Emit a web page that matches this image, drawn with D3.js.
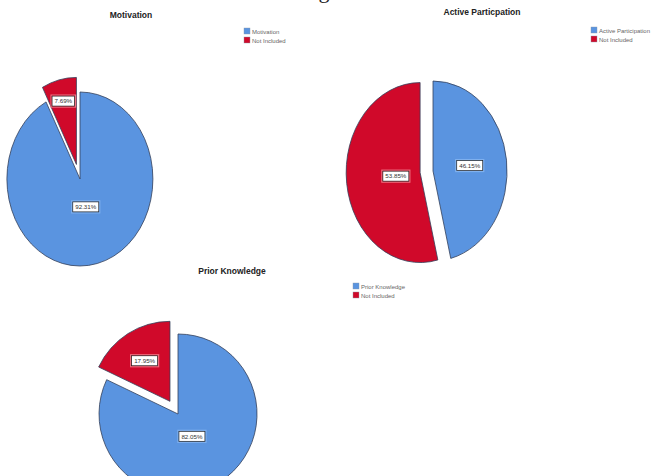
<!DOCTYPE html>
<html>
<head>
<meta charset="utf-8">
<script src="https://cdn.jsdelivr.net/npm/d3@7"></script>
<style>
  html, body { margin: 0; padding: 0; background: #fff; }
  svg { display: block; }
</style>
</head>
<body>
<svg id="chart" width="656" height="476"></svg>
<script>
// ---- data ----
const chartTitles = ["Motivation", "Active Particpation", "Prior Knowledge"];
const legendLabels = [
  ["Motivation", "Not Included"],
  ["Active Participation", "Not Included"],
  ["Prior Knowledge", "Not Included"]
];
const includedPct = [92.31, 46.15, 82.05];
const notIncludedPct = [7.69, 53.85, 17.95];
const sliceColors = ["#5a94e0", "#d0092a"];
const labelBorderColors = ["#7fb0ee", "#f07080"];

// ---- layout (positions only) ----
const layout = [
  { cx: 80,  cy: 179, rx: 73, ry: 87, explode: 15, title: [131, 18],  legend: [244, 28] },
  { cx: 433, cy: 171, rx: 74, ry: 90, explode: 13, title: [482, 15],  legend: [591, 27] },
  { cx: 178, cy: 414, rx: 79, ry: 80, explode: 15, title: [232, 274], legend: [353, 283] }
];

const svg = d3.select("#chart");

// caption fragment at the top edge (only its descender is visible, as in the source)
svg.append("text")
  .attr("x", 324).attr("y", -2)
  .attr("text-anchor", "middle")
  .attr("font-family", "Liberation Serif, serif")
  .attr("font-size", 22)
  .attr("fill", "#222")
  .text("g");

const pie = d3.pie().sort(null).value(d => d.v).startAngle(0).endAngle(2 * Math.PI);
const arc = d3.arc().innerRadius(0).outerRadius(1);

chartTitles.forEach((title, i) => {
  const L = layout[i];
  const data = [
    { v: includedPct[i], name: legendLabels[i][0], k: 0 },
    { v: notIncludedPct[i], name: legendLabels[i][1], k: 1 }
  ];
  const arcs = pie(data);
  const g = svg.append("g");

  // title
  g.append("text")
    .attr("x", L.title[0]).attr("y", L.title[1])
    .attr("text-anchor", "middle")
    .attr("font-family", "Liberation Sans, Arial, sans-serif")
    .attr("font-weight", "bold")
    .attr("font-size", 8.5)
    .attr("fill", "#222")
    .text(title);

  // legend
  const lg = g.append("g").attr("transform", `translate(${L.legend[0]},${L.legend[1]})`);
  data.forEach((d, j) => {
    lg.append("rect")
      .attr("x", 0).attr("y", j * 9)
      .attr("width", 6).attr("height", 6)
      .attr("fill", sliceColors[d.k])
      .attr("stroke", "#8899aa").attr("stroke-width", 0.4);
    lg.append("text")
      .attr("x", 8).attr("y", j * 9 + 5.5)
      .attr("font-family", "Liberation Sans, Arial, sans-serif")
      .attr("font-size", 6)
      .attr("fill", "#666")
      .text(d.name);
  });

  // slices
  arcs.forEach(a => {
    const mid = (a.startAngle + a.endAngle) / 2;
    const off = a.data.k === 1 ? L.explode : 0;
    const ox = L.cx + off * Math.sin(mid);
    const oy = L.cy - off * Math.cos(mid);
    g.append("path")
      .attr("d", arc(a))
      .attr("transform", `translate(${ox},${oy}) scale(${L.rx},${L.ry})`)
      .attr("fill", sliceColors[a.data.k])
      .attr("stroke", "#33405a")
      .attr("stroke-width", 0.8)
      .attr("vector-effect", "non-scaling-stroke");

    // label
    const v = a.data.v;
    const frac = v < 10 ? 0.75 : v < 20 ? 0.6 : v < 50 ? 0.5 : 0.33;
    const lx = ox + Math.sin(mid) * L.rx * frac;
    const ly = oy - Math.cos(mid) * L.ry * frac;
    const txt = v.toFixed(2) + "%";
    const bw = txt.length * 3.5 + 5, bh = 10;
    g.append("rect")
      .attr("x", lx - bw / 2 - 1).attr("y", ly - bh / 2 - 1)
      .attr("width", bw + 2).attr("height", bh + 2)
      .attr("fill", "none")
      .attr("stroke", labelBorderColors[a.data.k])
      .attr("stroke-width", 1.2);
    g.append("rect")
      .attr("x", lx - bw / 2).attr("y", ly - bh / 2)
      .attr("width", bw).attr("height", bh)
      .attr("fill", "#fff")
      .attr("stroke", "#222")
      .attr("stroke-width", 0.7);
    g.append("text")
      .attr("x", lx).attr("y", ly + 2.3)
      .attr("text-anchor", "middle")
      .attr("font-family", "Liberation Sans, Arial, sans-serif")
      .attr("font-size", 6.2)
      .attr("fill", "#333")
      .text(txt);
  });
});
</script>
</body>
</html>
